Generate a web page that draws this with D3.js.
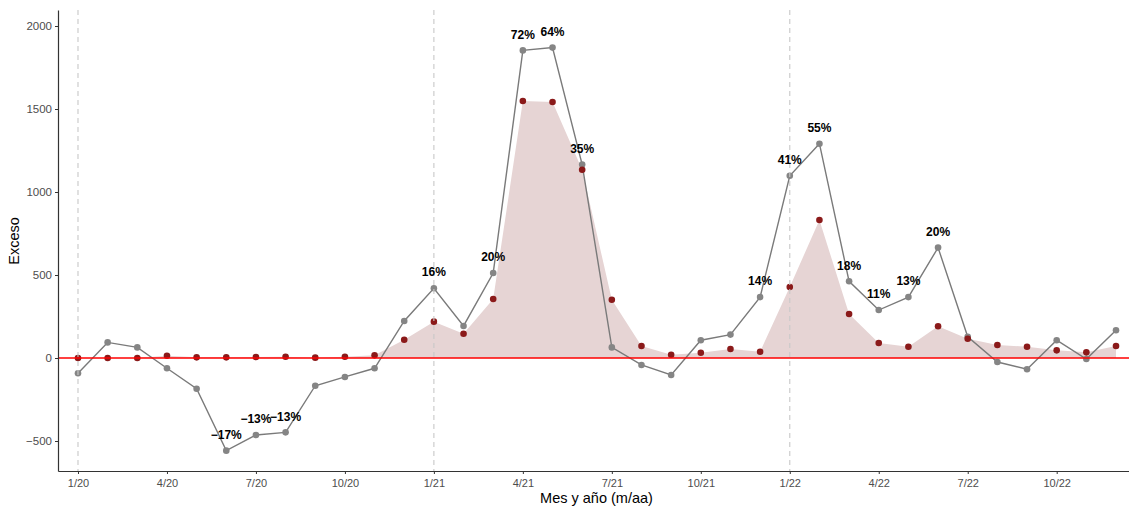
<!DOCTYPE html>
<html>
<head>
<meta charset="utf-8">
<script src="https://cdn.jsdelivr.net/npm/d3@7"></script>
<style>
  body { margin: 0; background: #fff; }
  svg { display: block; font-family: "Liberation Sans", Arial, sans-serif; }
</style>
</head>
<body>
<svg id="chart" width="1129" height="510"></svg>
<script>
// months since 1/20, 36 points
const months = d3.range(36)
const exceso = [-92, 94, 64, -62, -185, -558, -464, -448, -167, -114, -62, 223,
  420, 193, 512, 1853, 1870, 1165, 64, -42, -102, 107, 141, 367,
  1098, 1291, 462, 289, 367, 665, 128, -24, -68, 107, -6, 167]
const covid = [0, 0, 0, 14, 4, 4, 6, 8, 2, 8, 16, 110,
  219, 146, 355, 1548, 1542, 1134, 351, 72, 20, 32, 54, 38,
  428, 831, 265, 90, 68, 191, 116, 78, 68, 46, 34, 72]
// percentage labels (only where shown)
const pctMonths = [5, 6, 7, 12, 14, 15, 16, 17, 23, 24, 25, 26, 27, 28, 29]
const pctLabels = ["\u221217%", "\u221213%", "\u221213%", "16%", "20%", "72%", "64%", "35%",
  "14%", "41%", "55%", "18%", "11%", "13%", "20%"]
const tickMonths = [0, 3, 6, 9, 12, 15, 18, 21, 24, 27, 30, 33]
const tickLabels = ["1/20", "4/20", "7/20", "10/20", "1/21", "4/21", "7/21", "10/21", "1/22", "4/22", "7/22", "10/22"]
const yTicks = [-500, 0, 500, 1000, 1500, 2000]
const yearStarts = [0, 12, 24]

const margin = { top: 10, right: 0, bottom: 39, left: 58 }
const WIDTH = 1129
const HEIGHT = 510

const x = d3.scaleLinear([-0.674, 35.438], [margin.left, WIDTH - margin.right])
const y = d3.scaleLinear([-680.7, 2096.4], [HEIGHT - margin.bottom, margin.top])

const svg = d3.select("#chart")

// covid area
svg.append("path")
  .datum(months)
  .attr("fill", "#e6d4d4")
  .attr("d", d3.area().x(i => x(i)).y0(y(0)).y1(i => y(covid[i])))

// exceso line + points
svg.append("path")
  .datum(months)
  .attr("fill", "none")
  .attr("stroke", "#7a7a7a")
  .attr("stroke-width", 1.4)
  .attr("d", d3.line().x(i => x(i)).y(i => y(exceso[i])))

svg.append("g")
  .attr("fill", "#858585")
  .selectAll("circle")
  .data(months)
  .join("circle")
    .attr("cx", i => x(i))
    .attr("cy", i => y(exceso[i]))
    .attr("r", 3.3)

svg.append("g")
  .attr("fill", "#8b1a1a")
  .selectAll("circle")
  .data(months)
  .join("circle")
    .attr("cx", i => x(i))
    .attr("cy", i => y(covid[i]))
    .attr("r", 3.3)

// zero line
svg.append("line")
  .attr("x1", margin.left).attr("x2", WIDTH - margin.right)
  .attr("y1", y(0)).attr("y2", y(0))
  .attr("stroke", "#ff0000")
  .attr("stroke-width", 1.4)

// year start lines
svg.append("g")
  .selectAll("line")
  .data(yearStarts)
  .join("line")
    .attr("x1", d => x(d)).attr("x2", d => x(d))
    .attr("y1", margin.top).attr("y2", HEIGHT - margin.bottom)
    .attr("stroke", "#c8c8c8")
    .attr("stroke-width", 1.1)
    .attr("stroke-dasharray", "5,4")

// percent labels
svg.append("g")
  .attr("font-size", 12)
  .attr("font-weight", "bold")
  .attr("text-anchor", "middle")
  .attr("fill", "#000")
  .selectAll("text")
  .data(pctMonths)
  .join("text")
    .attr("x", d => x(d))
    .attr("y", d => y(exceso[d]) - 16)
    .attr("dy", "0.35em")
    .text((d, i) => pctLabels[i])

// axes
const xAxis = d3.axisBottom(x).tickValues(tickMonths).tickFormat((d, i) => tickLabels[i]).tickSize(3).tickSizeOuter(0)
const yAxis = d3.axisLeft(y).tickValues(yTicks).tickSize(3).tickSizeOuter(0).tickFormat(d => d < 0 ? "\u2212" + Math.abs(d) : d)

svg.append("g")
  .attr("transform", `translate(0,${HEIGHT - margin.bottom})`)
  .call(xAxis)
  .call(g => g.select(".domain").attr("stroke", "#333").attr("stroke-width", 1.2))
  .call(g => g.selectAll(".tick line").attr("stroke", "#333"))
  .call(g => g.selectAll(".tick text").attr("fill", "#4d4d4d").attr("font-size", 11).attr("font-family", "Liberation Sans, Arial, sans-serif").attr("dy", "0.95em"))

svg.append("g")
  .attr("transform", `translate(${margin.left},0)`)
  .call(yAxis)
  .call(g => g.select(".domain").attr("stroke", "#333").attr("stroke-width", 1.2))
  .call(g => g.selectAll(".tick line").attr("stroke", "#333"))
  .call(g => g.selectAll(".tick text").attr("fill", "#4d4d4d").attr("font-size", 11.5).attr("font-family", "Liberation Sans, Arial, sans-serif").attr("x", -6))

// axis titles
svg.append("text")
  .attr("x", (margin.left + WIDTH) / 2 + 3)
  .attr("y", 503)
  .attr("text-anchor", "middle")
  .attr("font-size", 14.5)
  .text("Mes y año (m/aa)")

svg.append("text")
  .attr("transform", `translate(19,${241}) rotate(-90)`)
  .attr("text-anchor", "middle")
  .attr("font-size", 14.5)
  .text("Exceso")
</script>
</body>
</html>
